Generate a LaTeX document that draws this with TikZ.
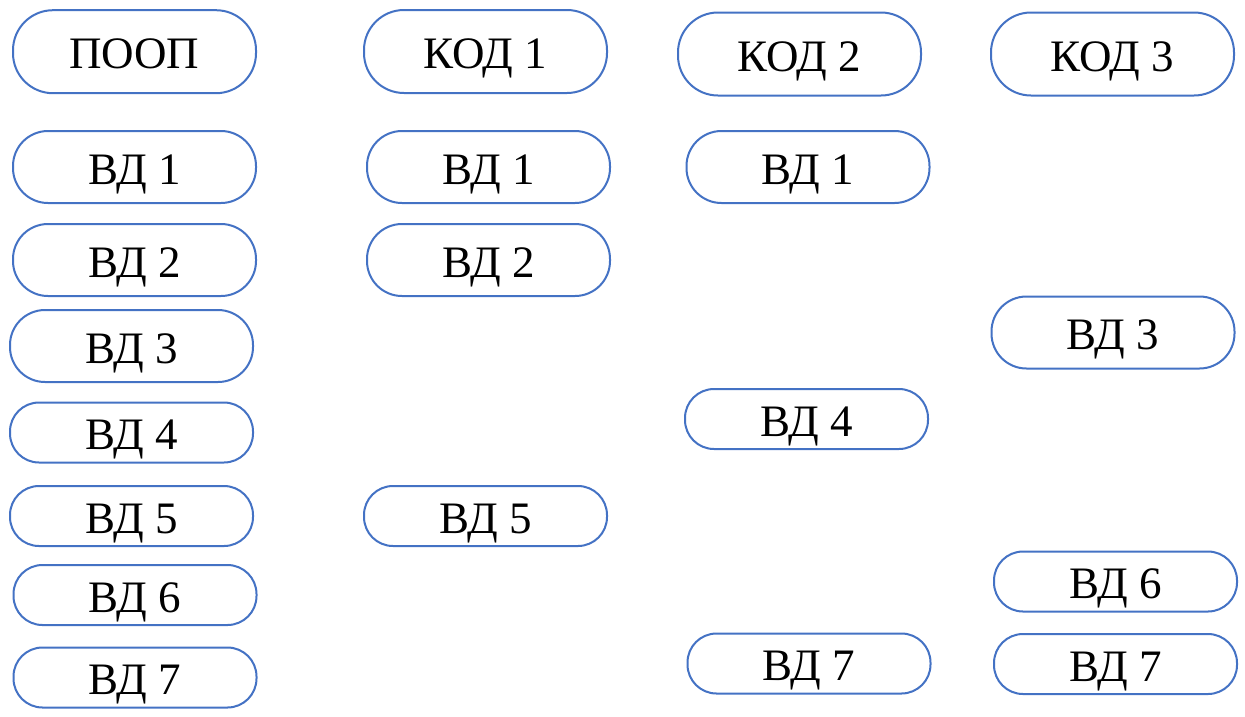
\documentclass[tikz,border=0pt]{standalone}
\usepackage{fontspec}
\setmainfont{Liberation Serif}
\definecolor{boxblue}{HTML}{4472C4}
\begin{document}
\begin{tikzpicture}[x=1pt,y=-1pt,
  pill/.style={draw=boxblue, line width=2pt, fill=white, minimum width=243pt,
    inner sep=0pt, text height=34pt, text depth=0pt,
    font=\fontsize{45}{50}\selectfont},
  tall/.style={pill, minimum height=83pt, rounded corners=40pt},
  mid/.style={pill, minimum height=72pt, rounded corners=35pt},
  low/.style={pill, minimum height=60pt, rounded corners=29pt}]
\useasboundingbox (0,0) rectangle (1245,716);
% column 1
\node[tall] (p0) at (134.5,51.7) {ПООП};
\node[mid]  (a1) at (134.5,167) {ВД 1};
\node[mid]  (a2) at (134.5,260) {ВД 2};
\node[mid]  (a3) at (131.5,346) {ВД 3};
\node[low]  (a4) at (131.5,432.5) {ВД 4};
\node[low]  (a5) at (131.5,516) {ВД 5};
\node[low]  (a6) at (135,595) {ВД 6};
\node[low]  (a7) at (135,677.5) {ВД 7};
% column 2
\node[tall] (k1) at (485.5,51.5) {КОД 1};
\node[mid]  (b1) at (488.5,167) {ВД 1};
\node[mid]  (b2) at (488.5,260) {ВД 2};
\node[low]  (b5) at (485.5,516) {ВД 5};
% column 3
\node[tall] (k2) at (799.5,54) {КОД 2};
\node[mid]  (c1) at (808,167) {ВД 1};
\node[low]  (c4) at (806.5,419) {ВД 4};
\node[low]  (c7) at (809,663.5) {ВД 7};
% column 4
\node[tall] (k3) at (1112.5,54) {КОД 3};
\node[mid]  (d3) at (1113,332.5) {ВД 3};
\node[low]  (d6) at (1115.5,581.5) {ВД 6};
\node[low]  (d7) at (1115.5,664) {ВД 7};
\end{tikzpicture}
\end{document}
